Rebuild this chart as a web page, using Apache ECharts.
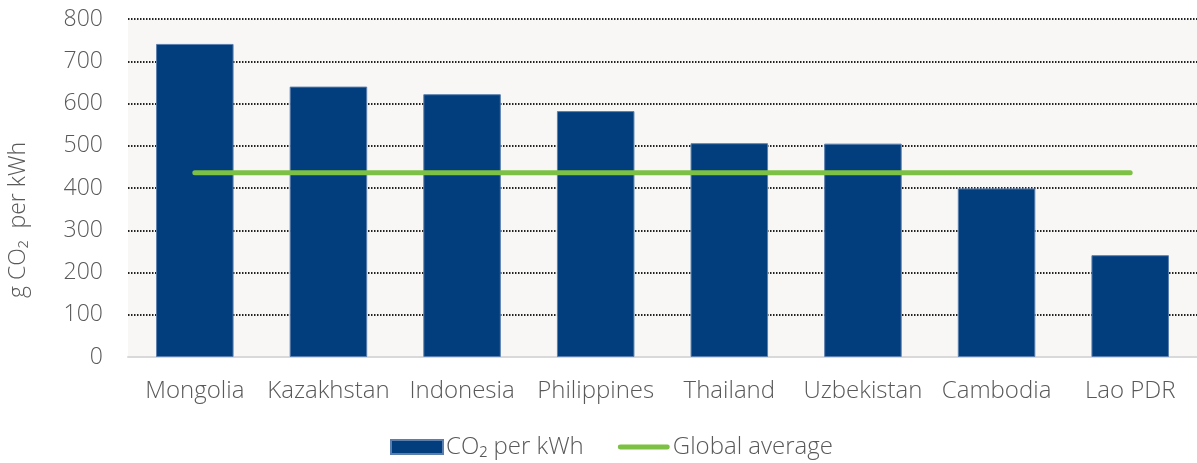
<!DOCTYPE html>
<html>
<head>
<meta charset="utf-8">
<script src="https://cdn.jsdelivr.net/npm/echarts@6/dist/echarts.min.js"></script>
<style>
  html, body { margin: 0; padding: 0; background: #ffffff; }
  #chart { width: 1197px; height: 463px; }
</style>
</head>
<body>
<div id="chart"></div>
<script>
// Grid emission intensity by country
const countries = ['Mongolia', 'Kazakhstan', 'Indonesia', 'Philippines', 'Thailand', 'Uzbekistan', 'Cambodia', 'Lao PDR'];
const co2PerKwh = [741, 640, 622, 582, 506, 505, 399, 241];
const globalAverageValue = 436;
const globalAverage = countries.map(() => globalAverageValue);
const yTicks = [0, 100, 200, 300, 400, 500, 600, 700, 800];

const FONT = "'Open Sans', 'Noto Sans', sans-serif";
const TEXT = '#595959';
const GREEN = '#7cc144';

const chart = echarts.init(document.getElementById('chart'), null, { renderer: 'canvas' });

chart.setOption({
  animation: false,
  textStyle: { fontFamily: FONT },
  grid: {
    left: 128, right: 0, top: 19, bottom: 106,
    show: true, backgroundColor: '#f8f7f5', borderWidth: 0
  },
  graphic: [
    {
      type: 'text',
      left: 7,
      top: 142,
      rotation: Math.PI / 2,
      style: {
        text: 'g CO\u2082  per kWh',
        fontFamily: FONT,
        fontSize: 23,
        fontWeight: 300,
        fill: TEXT
      }
    }
  ],
  legend: {
    top: 435,
    left: 390,
    padding: 0,
    itemWidth: 52,
    itemHeight: 14,
    itemGap: 34,
    textStyle: { fontFamily: FONT, fontSize: 24, color: TEXT, fontWeight: 300, padding: [0, 0, 0, -2] },
    data: [
      { name: 'CO\u2082 per kWh', icon: 'rect' },
      {
        name: 'Global average',
        icon: 'path://M2.5,0 L51.5,0 A2.5,2.5 0 0 1 51.5,5 L2.5,5 A2.5,2.5 0 0 1 2.5,0 Z',
        itemStyle: { color: GREEN }
      }
    ]
  },
  xAxis: {
    type: 'category',
    data: countries,
    axisLine: { show: true, lineStyle: { color: '#d9d9d9', width: 2 } },
    axisTick: { show: false },
    axisLabel: { fontFamily: FONT, fontSize: 24, color: TEXT, fontWeight: 300, margin: 22, interval: 0 },
    splitLine: { show: false }
  },
  yAxis: {
    type: 'value',
    min: yTicks[0],
    max: yTicks[yTicks.length - 1],
    interval: yTicks[1] - yTicks[0],
    axisLine: { show: false },
    axisTick: { show: false },
    axisLabel: { fontFamily: FONT, fontSize: 23, color: TEXT, fontWeight: 300, margin: 25 },
    splitLine: { show: true, lineStyle: { color: '#222222', width: 2, type: [1.5, 1.5] } }
  },
  series: [
    {
      name: 'CO\u2082 per kWh',
      type: 'bar',
      data: co2PerKwh,
      barWidth: '58%',
      itemStyle: { color: '#023e7d', borderColor: '#5a7fae', borderWidth: 1 },
      z: 2
    },
    {
      name: 'Global average',
      type: 'line',
      data: globalAverage,
      symbol: 'none',
      showSymbol: false,
      lineStyle: { color: GREEN, width: 5, cap: 'round' },
      itemStyle: { color: GREEN },
      z: 3
    }
  ]
});
</script>
</body>
</html>
